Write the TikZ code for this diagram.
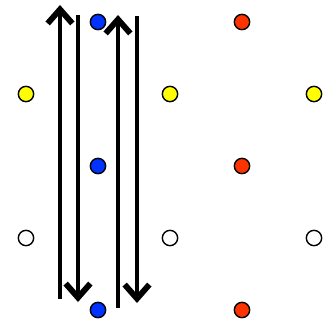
\documentclass[tikz,border=0pt]{standalone}
\usetikzlibrary{arrows.meta}
\definecolor{dotblue}{RGB}{0,51,255}
\definecolor{dotred}{RGB}{255,51,0}
\definecolor{dotyellow}{RGB}{255,255,0}
\begin{document}
\begin{tikzpicture}[x=0.03cm, y=-0.03cm,
  dot/.style={circle, draw=black, line width=1.2pt, minimum size=0.46cm, inner sep=0pt},
  flow/.style={line width=3.8pt, -{Straight Barb[length=0.42cm, width=0.74cm, line width=5pt, sharp]}}]
\useasboundingbox (0,0) rectangle (334,335);
% lattice of dots
\node[dot, fill=dotblue] (b1) at (98,22) {};
\node[dot, fill=dotblue] (b2) at (98,166) {};
\node[dot, fill=dotblue] (b3) at (98,310) {};
\node[dot, fill=dotred] (r1) at (242,22) {};
\node[dot, fill=dotred] (r2) at (242,166) {};
\node[dot, fill=dotred] (r3) at (242,310) {};
\node[dot, fill=dotyellow] (y1) at (26,94) {};
\node[dot, fill=dotyellow] (y2) at (170,94) {};
\node[dot, fill=dotyellow] (y3) at (314,94) {};
\node[dot, fill=white] (w1) at (26,238) {};
\node[dot, fill=white] (w2) at (170,238) {};
\node[dot, fill=white] (w3) at (314,238) {};
% arrow ends
\coordinate (up1s) at (60,299);
\coordinate (up1e) at (60,5);
\coordinate (dn1s) at (78,15);
\coordinate (dn1e) at (78,302);
\coordinate (up2s) at (118,308);
\coordinate (up2e) at (118,15);
\coordinate (dn2s) at (137,16);
\coordinate (dn2e) at (137,303);
\draw[flow] (up1s) -- (up1e);
\draw[flow] (dn1s) -- (dn1e);
\draw[flow] (up2s) -- (up2e);
\draw[flow] (dn2s) -- (dn2e);
\end{tikzpicture}
\end{document}
